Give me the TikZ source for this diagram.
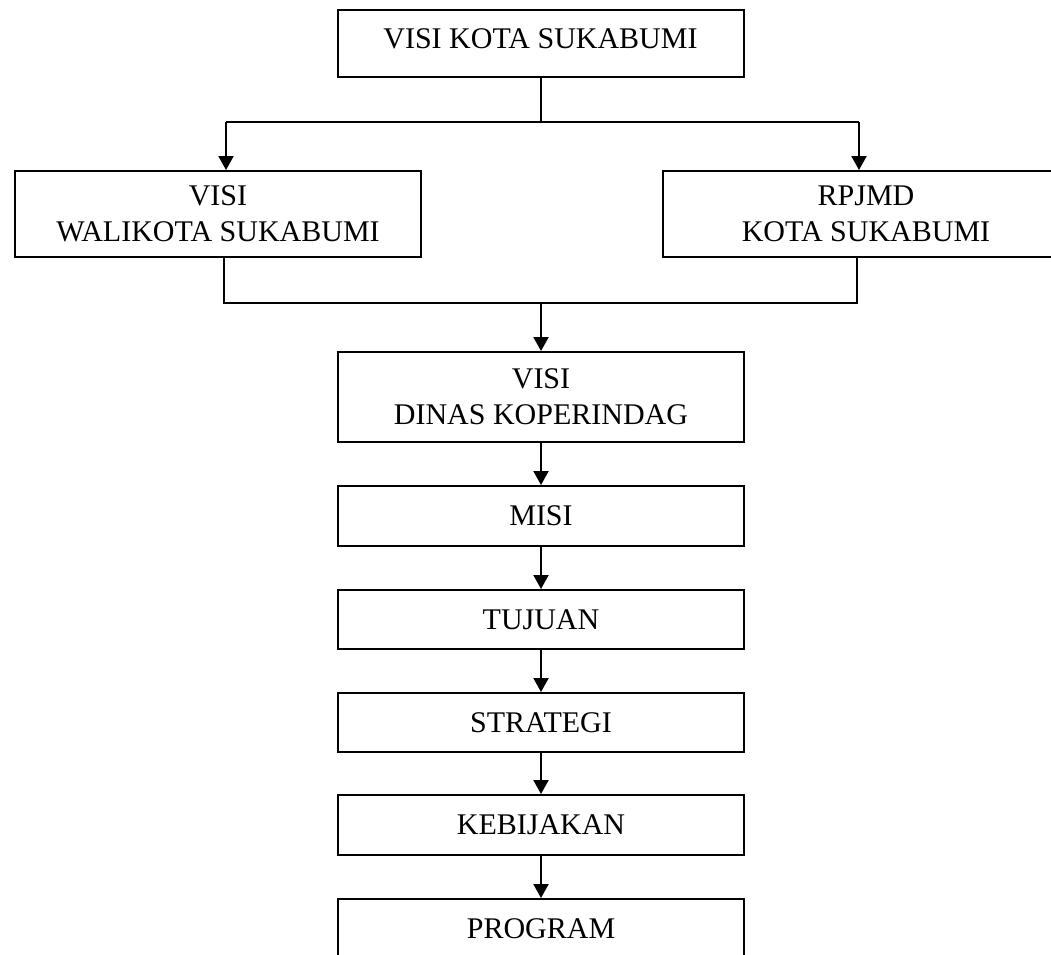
\documentclass[tikz,border=0pt]{standalone}
\usepackage{fontspec}
\setmainfont{Liberation Serif}
\usetikzlibrary{arrows.meta}
\begin{document}
\begin{tikzpicture}[x=1pt,y=-1pt,
  box/.style={draw,line width=2pt,minimum width=406pt,align=center,inner sep=0pt,
    font=\fontsize{30}{36}\selectfont},
  conn/.style={line width=2pt},
  arr/.style={line width=2pt,-{Triangle[length=14pt,width=15pt]}}]
\useasboundingbox (0,0) rectangle (1051,954);
\clip (0,0) rectangle (1051,954);
\node[box,minimum height=67pt,text height=20pt,text depth=10pt] (visi) at (540.5,43.5) {VISI KOTA SUKABUMI};
\node[box,minimum height=86pt] (wali) at (218,214) {VISI\\WALIKOTA SUKABUMI};
\node[box,minimum height=86pt] (rpjmd) at (866,214) {RPJMD\\KOTA SUKABUMI};
\node[box,minimum height=90pt] (dinas) at (541,397) {VISI\\DINAS KOPERINDAG};
\node[box,minimum height=60pt] (misi) at (541,516) {MISI};
\node[box,minimum height=59pt] (tujuan) at (541,619.5) {TUJUAN};
\node[box,minimum height=59pt] (strategi) at (541,722.5) {STRATEGI};
\node[box,minimum height=60pt] (kebijakan) at (541,825) {KEBIJAKAN};
\node[box,minimum height=60pt] (program) at (541,929) {PROGRAM};
\coordinate (j1) at (541,122);
\coordinate (j1l) at (226,122);
\coordinate (j1r) at (859,122);
\coordinate (j2l) at (224,303);
\coordinate (j2r) at (857,303);
\coordinate (j2) at (541,303);
\draw[conn] (visi.south -| j1) -- (j1);
\draw[conn] (j1l) -- (j1r);
\draw[arr] (j1l) -- (wali.north -| j1l);
\draw[arr] (j1r) -- (rpjmd.north -| j1r);
\draw[conn] (wali.south -| j2l) -- (j2l) -- (j2r) -- (rpjmd.south -| j2r);
\draw[arr] (j2) -- (dinas.north);
\draw[arr] (dinas) -- (misi);
\draw[arr] (misi) -- (tujuan);
\draw[arr] (tujuan) -- (strategi);
\draw[arr] (strategi) -- (kebijakan);
\draw[arr] (kebijakan) -- (program);
\end{tikzpicture}
\end{document}
